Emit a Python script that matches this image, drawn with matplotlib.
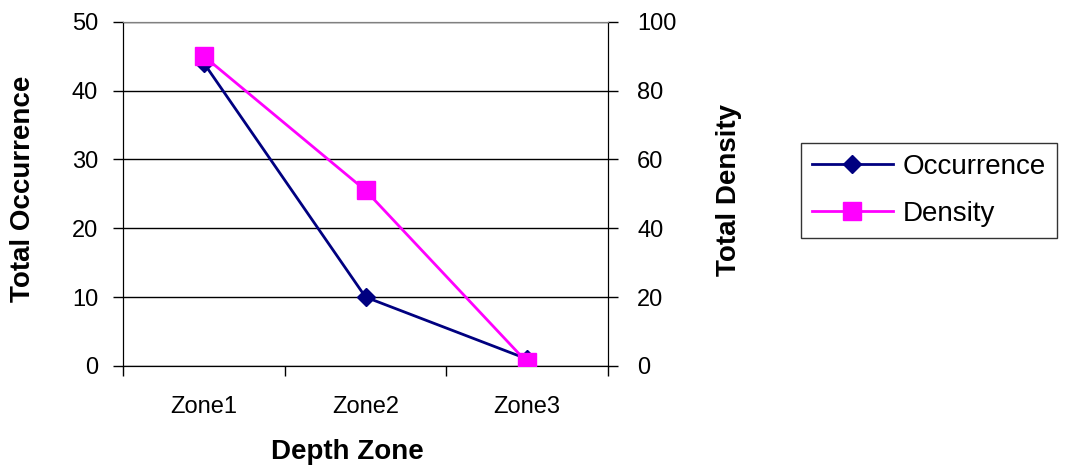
import numpy as np
import matplotlib.pyplot as plt

plt.rcParams['font.family'] = ['Liberation Sans', 'DejaVu Sans']

# Data
zones = ['Zone1', 'Zone2', 'Zone3']
occurrence = [44, 10, 1]
density = [90, 51, 1]

navy = '#000080'
magenta = '#FF00FF'

fig = plt.figure(figsize=(10.86, 4.74), dpi=100)
ax = fig.add_axes([0.1133, 0.228, 0.4466, 0.726])
ax2 = ax.twinx()

x = np.arange(1, len(zones) + 1)
l1, = ax.plot(x, occurrence, color=navy, lw=2, marker='D', ms=9,
              markerfacecolor=navy, markeredgecolor=navy, label='Occurrence', zorder=3)
l2, = ax2.plot(x, density, color=magenta, lw=2, marker='s', ms=13,
               markerfacecolor=magenta, markeredgecolor=magenta, label='Density', zorder=3)

ax.set_xlim(0.5, len(zones) + 0.5)
ax.set_ylim(0, 50)
ax2.set_ylim(0, 100)
ax.set_yticks(range(0, 51, 10))
ax2.set_yticks(range(0, 101, 20))
ax.set_xticks(x)
ax.set_xticklabels(zones)
ax.set_xticks(np.arange(0.5, len(zones) + 1, 1), minor=True)
ax.tick_params(axis='x', which='major', length=0, pad=22, labelsize=17)
ax.tick_params(axis='x', which='minor', length=7, width=1, direction='out')
ax.tick_params(axis='y', length=7, width=1, direction='out', labelsize=17, pad=11)
ax2.tick_params(axis='y', length=7, width=1, direction='out', labelsize=17, pad=14)

ax.grid(axis='y', color='black', lw=1)
ax.set_axisbelow(True)
for sp in ['left', 'bottom']:
    ax.spines[sp].set_color('black')
ax.spines['top'].set_color('#808080')
ax2.spines['top'].set_color('#808080')
ax2.spines['right'].set_color('black')

# axis titles placed in figure pixels
W, H = 1086, 474
fig.text(347 / W, 1 - 452 / H, 'Depth Zone', fontsize=20, fontweight='bold',
         ha='center', va='center')
fig.text(23 / W, 1 - 189 / H, 'Total Occurrence', fontsize=20, fontweight='bold',
         ha='center', va='center', rotation=90)
fig.text(729 / W, 1 - 190 / H, 'Total Density', fontsize=20, fontweight='bold',
         ha='center', va='center', rotation=90)

leg = fig.legend([l1, l2], ['Occurrence', 'Density'], loc='upper left',
                 bbox_to_anchor=(801 / W, 1 - 143 / H), fontsize=20, frameon=True,
                 fancybox=False, edgecolor='black', handlelength=2.9,
                 borderpad=0.4, labelspacing=0.75, handletextpad=0.35,
                 borderaxespad=0)
leg.get_frame().set_linewidth(1)

fig.savefig('out.png', dpi=100)
